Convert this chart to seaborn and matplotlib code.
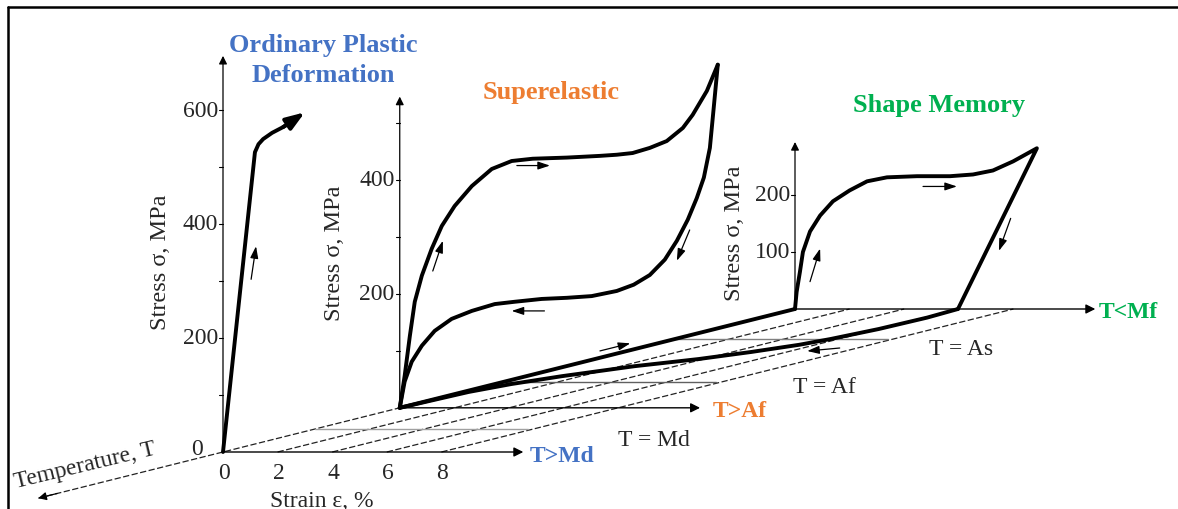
import matplotlib
matplotlib.use('Agg')
import matplotlib.pyplot as plt
import seaborn as sns
import numpy as np

# ---- curves: strain in %, stress in MPa
plastic_strain = [0, 0.6, 1.17, 1.3, 1.47, 1.8, 2.2, 2.6, 3.0]
plastic_stress = [0, 270, 526, 540, 549, 560, 570, 582, 596]

se_load_strain = [0, 0.18, 0.37, 0.55, 0.81, 1.17, 1.54, 2.01, 2.64, 3.37, 4.1, 4.87,
                  6.12, 7.33, 7.95, 8.53, 9.16, 9.78, 10.37, 10.73, 11.25, 11.65]
se_load_stress = [0, 56, 126, 186, 232, 279, 319, 354, 389, 419, 433, 437,
                  439, 442, 444, 447, 456, 468, 491, 514, 556, 602]
se_unload_strain = [11.65, 11.5, 11.36, 11.14, 10.88, 10.55, 10.15, 9.71, 9.16, 8.57, 7.95,
                    7.03, 6.12, 5.2, 4.2, 3.48, 2.64, 1.9, 1.28, 0.81, 0.44, 0.18, 0]
se_unload_stress = [602, 526, 456, 404, 368, 330, 293, 260, 233, 216, 205,
                    196, 193, 191, 186, 182, 170, 156, 135, 109, 81, 46, 0]

sm_strain = [0, 0.06, 0.18, 0.29, 0.55, 0.92, 1.39, 2.0, 2.64, 3.37, 4.47, 5.68,
             6.52, 7.25, 7.99, 8.86, 5.97]
sm_stress = [0, 30, 65, 100, 136, 164, 189, 208, 224, 231, 233, 233,
             236, 243, 259, 282, 0]

# heating path in the strain-temperature plane (depth = position along T axis)
recover_strain = [5.97, 6.1, 6.0, 5.7, 5.4, 4.7, 3.8, 2.5, 1.3, 0.6, 0.2, 0.0]
recover_depth = [10, 9.4, 8.6, 7.9, 7.5, 7.0, 6.5, 6.0, 5.3, 4.75, 4.2, 3.09]
cool_strain = [0, 0]
cool_depth = [3.09, 10]

# planes along the temperature axis
panel_depth = {'md': 0, 'af': 3.09, 'mf': 10}
level_depth = [1.61, 4.9, 7.9]
level_labels = ['T = Md', 'T = Af', 'T = As']
level_colors = ['#a0a0a0', '#606060', '#808080']
grid_strain = [0, 2, 4, 6, 8]
strain_ticks = [0, 2, 4, 6, 8]

panel_yticks = {'md': [200, 400, 600], 'af': [200, 400], 'mf': [100, 200]}
panel_minor = {'md': [100, 200, 300, 400, 500, 600], 'af': [100, 200, 300, 400, 500],
               'mf': [100, 200]}
panel_top = {'md': 695, 'af': 546, 'mf': 293}

# small direction arrows: (depth, strain0, stress0, strain1, stress1)
small_arrows = [
    (0, 1.03, 303, 1.21, 361),
    (3.09, 1.21, 240, 1.58, 293),
    (3.09, 4.29, 425, 5.5, 425),
    (3.09, 5.3, 170, 4.1, 170),
    (3.09, 10.62, 312, 10.15, 258),
    (10, 0.55, 48, 0.92, 106),
    (10, 4.69, 215, 5.93, 215),
    (10, 7.9, 159, 7.47, 102),
]
plane_arrows = [  # (strain0, depth0, strain1, depth1, lift)
    (0, 6.59, 0, 7.12, 12),
    (6.1, 7.87, 5.35, 7.66, -15),
]

BLUE, ORANGE, GREEN = '#4472C4', '#ED7D31', '#00B050'

# oblique projection of (strain, stress, depth) to picture pixels
X0, Y0 = 223, 453
SX, SY = 27.3, 0.57
DX, DY = 57.2, 14.3


def proj(strain, stress, depth):
    s = np.asarray(strain, float)
    q = np.asarray(stress, float)
    d = np.asarray(depth, float)
    return X0 + SX * s + DX * d, Y0 - SY * q - DY * d


sns.set_theme(style='white')
plt.rcParams['font.family'] = ['Liberation Serif', 'DejaVu Serif']

fig = plt.figure(figsize=(11.78, 5.10), dpi=100)
ax = fig.add_axes([0, 0, 1, 1])
ax.set_xlim(0, 1178)
ax.set_ylim(510, 0)
ax.axis('off')

# frame
ax.plot([8, 8], [510, 8], color='black', lw=1.8)
ax.plot([8, 1178], [8, 8], color='black', lw=1.8)

# dashed strain lines running along temperature
for g in grid_strain:
    d0 = -3.23 if g == 0 else 0
    x, y = proj([g, g], [0, 0], [d0, 10])
    ax.plot(x, y, color='#222222', lw=0.9, ls=(0, (5, 2)))
tx, ty = proj([0, 0], [0, 0], [-2.9, -3.23])
ax.annotate('', xy=(tx[1], ty[1]), xytext=(tx[0], ty[0]),
            arrowprops=dict(arrowstyle='-|>', color='black', lw=0.9, mutation_scale=12,
                            shrinkA=0, shrinkB=0))

# temperature levels
for d, lab, c in zip(level_depth, level_labels, level_colors):
    x, y = proj([0, 7.8], [0, 0], [d, d])
    ax.plot(x, y, color=c, lw=1.0)
offs = [(3.3, 16), (2.8, 10), (1.5, 15)]
for d, lab, (ds, dy) in zip(level_depth, level_labels, offs):
    x, y = proj(7.8 + ds, 0, d)
    ax.text(x, y + dy, lab, fontsize=17, ha='left', va='baseline')

# stress / strain axes for the three panels
for key, d in panel_depth.items():
    ox, oy = proj(0, 0, d)
    sx, sy = proj(11, 0, d)
    ax.annotate('', xy=(sx, sy), xytext=(ox, oy),
                arrowprops=dict(arrowstyle='-|>', color='black', lw=1.0, mutation_scale=14,
                                shrinkA=0, shrinkB=0))
    vx, vy = proj(0, panel_top[key], d)
    ax.annotate('', xy=(vx, vy), xytext=(ox, oy),
                arrowprops=dict(arrowstyle='-|>', color='black', lw=0.9, mutation_scale=12,
                                shrinkA=0, shrinkB=0))
    for t in panel_minor[key]:
        mx, my = proj(0, t, d)
        ax.plot([mx - 4, mx], [my, my], color='black', lw=0.8)
    for t in panel_yticks[key]:
        mx, my = proj(0, t, d)
        ax.text(mx - 5, my, str(t), fontsize=17, ha='right', va='center')

ax.text(203, 450, '0', fontsize=17, ha='right', va='center')
for t in strain_ticks:
    x, y = proj(t, 0, 0)
    ax.text(x + 1, 479, str(t), fontsize=17, ha='center', va='baseline')

# axis titles
ax.text(322, 507, 'Strain ε, %', fontsize=17, ha='center', va='baseline')
ax.text(85, 466, 'Temperature, T', fontsize=17, ha='center', va='center', rotation=13.5)
for cx, cy in [(160, 262), (335, 253), (735, 233)]:
    ax.text(cx, cy, 'Stress σ, MPa', fontsize=17.5, ha='center', va='center', rotation=90)


# curves
def curve(strain, stress, depth):
    x, y = proj(strain, stress, np.full(len(strain), depth))
    sns.lineplot(x=x, y=y, sort=False, estimator=None, color='black', lw=2.8,
                 solid_joinstyle='round', solid_capstyle='round', ax=ax)


curve(plastic_strain[:-1], plastic_stress[:-1], 0)
hx, hy = proj(plastic_strain[-3:], plastic_stress[-3:], 0)
ax.annotate('', xy=(hx[2], hy[2]), xytext=(hx[0], hy[0]),
            arrowprops=dict(arrowstyle='-|>,head_length=0.7,head_width=0.25', color='black',
                            lw=2.8, mutation_scale=16, shrinkA=0, shrinkB=0))
curve(se_load_strain, se_load_stress, 3.09)
curve(se_unload_strain, se_unload_stress, 3.09)
curve(sm_strain, sm_stress, 10)

for st, dp in [(recover_strain, recover_depth), (cool_strain, cool_depth)]:
    x, y = proj(st, np.zeros(len(st)), dp)
    sns.lineplot(x=x, y=y, sort=False, estimator=None, color='black', lw=2.8,
                 solid_joinstyle='round', solid_capstyle='round', ax=ax)

for d, s0, q0, s1, q1 in small_arrows:
    ax0, ay0 = proj(s0, q0, d)
    ax1, ay1 = proj(s1, q1, d)
    ax.annotate('', xy=(ax1, ay1), xytext=(ax0, ay0),
                arrowprops=dict(arrowstyle='-|>,head_length=0.6,head_width=0.2', color='black',
                                lw=0.9, mutation_scale=12, shrinkA=0, shrinkB=0))
for s0, d0, s1, d1, lift in plane_arrows:
    ax0, ay0 = proj(s0, lift, d0)
    ax1, ay1 = proj(s1, lift, d1)
    ax.annotate('', xy=(ax1, ay1), xytext=(ax0, ay0),
                arrowprops=dict(arrowstyle='-|>,head_length=0.6,head_width=0.2', color='black',
                                lw=0.9, mutation_scale=12, shrinkA=0, shrinkB=0))

# coloured titles
ax.text(323, 52, 'Ordinary Plastic', fontsize=19, fontweight='bold', color=BLUE,
        ha='center', va='baseline')
ax.text(323, 82, 'Deformation', fontsize=19, fontweight='bold', color=BLUE,
        ha='center', va='baseline')
ax.text(551, 99, 'Superelastic', fontsize=19, fontweight='bold', color=ORANGE,
        ha='center', va='baseline')
ax.text(939, 112, 'Shape Memory', fontsize=19, fontweight='bold', color=GREEN,
        ha='center', va='baseline')
ax.text(530, 462, 'T>Md', fontsize=17, fontweight='bold', color=BLUE, ha='left', va='baseline')
ax.text(713, 417, 'T>Af', fontsize=17, fontweight='bold', color=ORANGE, ha='left', va='baseline')
ax.text(1099, 318, 'T<Mf', fontsize=17, fontweight='bold', color=GREEN, ha='left', va='baseline')

fig.savefig('out.png', dpi=100)
